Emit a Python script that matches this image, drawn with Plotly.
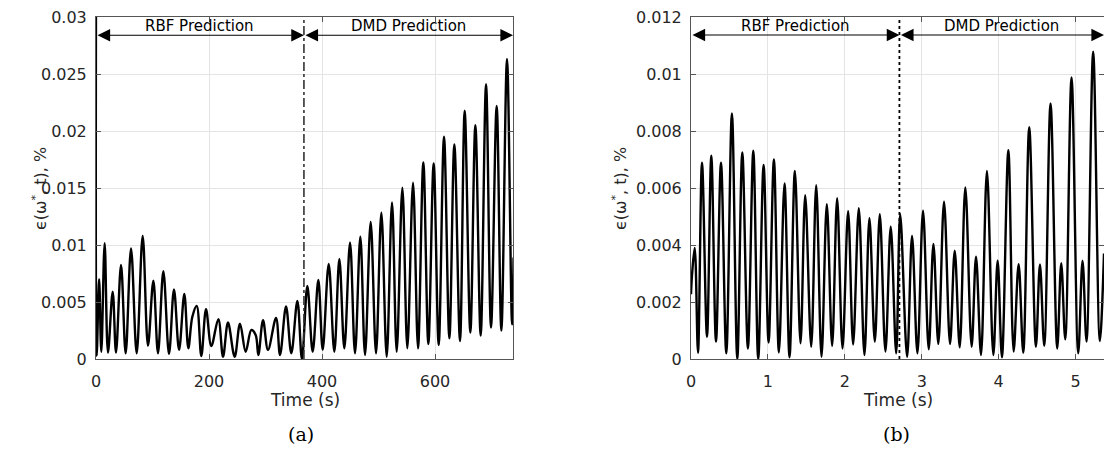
import plotly.graph_objects as go

# ---------------- data ----------------
# (a) error vs time (s) – peaks and troughs of the oscillating error
t_a = [0, 1.2, 5.5, 9.4, 15.3, 21.2, 29.5, 35.4, 44.3, 52.5, 62.0, 72.0, 82.6, 92.0,
       101.5, 109.7, 119.2, 129.2, 138.0, 147.0, 156.3, 163.4, 170.5, 178.2, 186.4,
       194.7, 204.1, 216.5, 224.8, 233.6, 245.4, 254.9, 264.9, 274.9, 282.6, 287.3,
       295.6, 304.4, 318.6, 325.7, 336.3, 345.7, 356.4, 364.5, 374.0, 383.5, 393.5,
       401.2, 411.8, 421.8, 430.7, 439.5, 449.6, 458.4, 467.8, 476.1, 486.1, 495.6,
       505.0, 514.5, 523.9, 532.2, 542.2, 551.0, 561.1, 569.9, 579.3, 588.2, 597.6,
       606.5, 615.9, 625.4, 634.2, 644.2, 652.5, 662.5, 671.4, 680.8, 690.3, 699.1,
       709.1, 717.4, 727.4, 736.3, 739.0]
err_a = [0.032, 0.0003, 0.0070, 0.00064, 0.01015, 0.00056, 0.0059, 0.00056, 0.00825,
         0.0005, 0.0097, 0.0005, 0.0108, 0.00117, 0.00687, 0.0005, 0.0077, 0.00044,
         0.0061, 0.0008, 0.0057, 0.00094, 0.0037, 0.00465, 0.00026, 0.00436, 0.00114,
         0.0035, 0.0002, 0.0032, 0.0002, 0.0031, 0.00064, 0.00254, 0.0021, 0.00035,
         0.0034, 0.0008, 0.0036, 0.00035, 0.0046, 0.0005, 0.0051, 0.0, 0.0064, 0.00064,
         0.00693, 0.0008, 0.00833, 0.00064, 0.00877, 0.00094, 0.01023, 0.0005, 0.01073,
         0.00035, 0.01202, 0.0005, 0.01284, 0.0002, 0.01374, 0.00064, 0.01503, 0.00094,
         0.01547, 0.00094, 0.01725, 0.00132, 0.01716, 0.00123, 0.0195, 0.00181, 0.01883,
         0.00158, 0.02178, 0.00231, 0.0205, 0.00205, 0.0241, 0.00275, 0.0222, 0.00249,
         0.02632, 0.00304, 0.0089]

# (b) error vs time (s)
t_b = [0, 0.012, 0.048, 0.091, 0.143, 0.208, 0.264, 0.325, 0.39, 0.459, 0.532, 0.602,
       0.667, 0.74, 0.81, 0.874, 0.944, 1.009, 1.078, 1.143, 1.216, 1.281, 1.351, 1.424,
       1.485, 1.563, 1.628, 1.697, 1.766, 1.835, 1.9, 1.97, 2.043, 2.108, 2.182, 2.255,
       2.32, 2.39, 2.455, 2.528, 2.597, 2.668, 2.72, 2.81, 2.874, 2.944, 3.017, 3.091,
       3.152, 3.216, 3.29, 3.368, 3.429, 3.494, 3.567, 3.649, 3.706, 3.771, 3.848, 3.931,
       3.987, 4.043, 4.126, 4.195, 4.26, 4.32, 4.398, 4.485, 4.537, 4.593, 4.675, 4.762,
       4.814, 4.866, 4.948, 5.035, 5.091, 5.143, 5.229, 5.316, 5.37]
err_b = [0.00227, 0.0029, 0.0039, 0.00022, 0.00689, 0.00078, 0.00713, 0.00061, 0.00689,
         0.0002, 0.00862, 0.0, 0.00725, 0.00037, 0.00731, 0.0, 0.00681, 0.00058, 0.0070,
         0.00023, 0.00616, 0.00006, 0.0066, 0.00055, 0.00575, 0.00043, 0.0061, 0.00008,
         0.00543, 0.00046, 0.00564, 0.00037, 0.00519, 0.00051, 0.00529, 0.00014, 0.00494,
         0.00061, 0.00508, 0.00026, 0.00464, 0.0002, 0.00508, 0.00008, 0.00432, 0.0002,
         0.0052, 0.00034, 0.00404, 0.00053, 0.00552, 0.00053, 0.0038, 0.00041, 0.00602,
         0.00043, 0.00359, 0.00014, 0.0066, 0.00014, 0.00345, 0.00006, 0.00733, 0.00026,
         0.00333, 0.00022, 0.00813, 0.00043, 0.00332, 0.00046, 0.00897, 0.00037, 0.00336,
         0.00069, 0.00988, 0.0002, 0.00345, 0.00061, 0.01078, 0.00063, 0.0037]

split_a = 368          # RBF -> DMD switch time (s), panel a
split_b = 2.71         # panel b
xrange_a = [0, 738]
xrange_b = [0, 5.37]
yrange_a = [0, 0.03]
yrange_b = [0, 0.012]
arrow_y_a = 0.0284
arrow_y_b = 0.01137
xticks_a = [0, 200, 400, 600]
xticks_b = [0, 1, 2, 3, 4, 5]
yticks_a = [0, 0.005, 0.01, 0.015, 0.02, 0.025, 0.03]
yticks_b = [0, 0.002, 0.004, 0.006, 0.008, 0.01, 0.012]
ytick_text_a = ["0", "0.005", "0.01", "0.015", "0.02", "0.025", "0.03"]
ytick_text_b = ["0", "0.002", "0.004", "0.006", "0.008", "0.01", "0.012"]
labels = ["RBF Prediction", "DMD Prediction"]
captions = ["(a)", "(b)"]

assert len(t_a) == len(err_a) and len(t_b) == len(err_b)

# ---------------- figure ----------------
W, H = 1104, 451
FONT = "DejaVu Sans"
TXT = "#262626"
AX = "#555555"

fig = go.Figure()
fig.add_trace(go.Scatter(x=t_a, y=err_a, mode="lines", xaxis="x", yaxis="y",
                         line=dict(color="black", width=2.4, shape="spline", smoothing=1),
                         showlegend=False))
fig.add_trace(go.Scatter(x=t_b, y=err_b, mode="lines", xaxis="x2", yaxis="y2",
                         line=dict(color="black", width=2.4, shape="spline", smoothing=1),
                         showlegend=False))

ydom = [(H - 359) / H, (H - 17) / H]
common = dict(showline=True, mirror="ticks", linecolor=AX, linewidth=1,
              ticks="inside", ticklen=5, tickcolor=AX, showgrid=True,
              gridcolor="#e4e4e4", gridwidth=1, zeroline=False, automargin=False,
              tickfont=dict(family=FONT, size=16, color=TXT))

fig.update_layout(
    template="none",
    width=W, height=H, margin=dict(l=0, r=0, t=0, b=0, pad=0, autoexpand=False),
    paper_bgcolor="white", plot_bgcolor="white",
    font=dict(family=FONT, color=TXT),
    xaxis=dict(domain=[96 / W, 513 / W], range=xrange_a, tickvals=xticks_a,
               anchor="y", ticklabelstandoff=8, **common),
    yaxis=dict(domain=ydom, range=yrange_a, tickvals=yticks_a, ticktext=ytick_text_a,
               anchor="x", ticklabelstandoff=5, **common),
    xaxis2=dict(domain=[691 / W, 1.0], range=xrange_b, tickvals=xticks_b,
                anchor="y2", ticklabelstandoff=8, **common),
    yaxis2=dict(domain=ydom, range=yrange_b, tickvals=yticks_b, ticktext=ytick_text_b,
                anchor="x2", ticklabelstandoff=5, **common),
)

# vertical switch lines
fig.add_shape(type="line", xref="x", yref="y domain", x0=split_a, x1=split_a, y0=0, y1=1,
              line=dict(color="#333333", width=1.6, dash="dashdot"))
fig.add_shape(type="line", xref="x2", yref="y2 domain", x0=split_b, x1=split_b, y0=0, y1=1,
              line=dict(color="black", width=1.8, dash="dot"))

# double-headed arrows
def darrow(xref, yref, x0, x1, y):
    fig.add_annotation(x=x1, y=y, ax=x0, ay=y, xref=xref, yref=yref, axref=xref, ayref=yref,
                       showarrow=True, arrowhead=2, startarrowhead=2, arrowside="end+start",
                       arrowsize=2.3, startarrowsize=2.3, arrowwidth=1.1, arrowcolor="black",
                       standoff=0, startstandoff=0, text="")

darrow("x", "y", xrange_a[0], split_a, arrow_y_a)
darrow("x", "y", split_a, xrange_a[1], arrow_y_a)
darrow("x2", "y2", xrange_b[0], split_b, arrow_y_b)
darrow("x2", "y2", split_b, xrange_b[1], arrow_y_b)

label_y = (H - 26) / H
for xr, xs in [("x", [(xrange_a[0] + split_a) / 2, (split_a + xrange_a[1]) / 2]),
               ("x2", [(xrange_b[0] + split_b) / 2, (split_b + xrange_b[1]) / 2])]:
    for lab, xv in zip(labels, xs):
        fig.add_annotation(x=xv, y=label_y, xref=xr, yref="paper", text=lab, showarrow=False,
                           font=dict(family=FONT, size=15, color="black"),
                           xanchor="center", yanchor="middle")

# axis titles
for xc in [305 / W, 898 / W]:
    fig.add_annotation(x=xc, y=(H - 400) / H, xref="paper", yref="paper", text="Time (s)",
                       showarrow=False, font=dict(family=FONT, size=17, color=TXT),
                       xanchor="center", yanchor="middle")
for xc in [39 / W, 619 / W]:
    fig.add_annotation(x=xc, y=(H - 189) / H, xref="paper", yref="paper",
                       text="ϵ(ω<sup>*</sup>, t), %", textangle=-90, showarrow=False,
                       font=dict(family=FONT, size=16, color=TXT),
                       xanchor="center", yanchor="middle")

# captions
for xc, cap in zip([301 / W, 896 / W], captions):
    fig.add_annotation(x=xc, y=(H - 434) / H, xref="paper", yref="paper", text=cap,
                       showarrow=False, font=dict(family="DejaVu Serif", size=19, color="black"),
                       xanchor="center", yanchor="middle")

fig.write_html("out.html")
